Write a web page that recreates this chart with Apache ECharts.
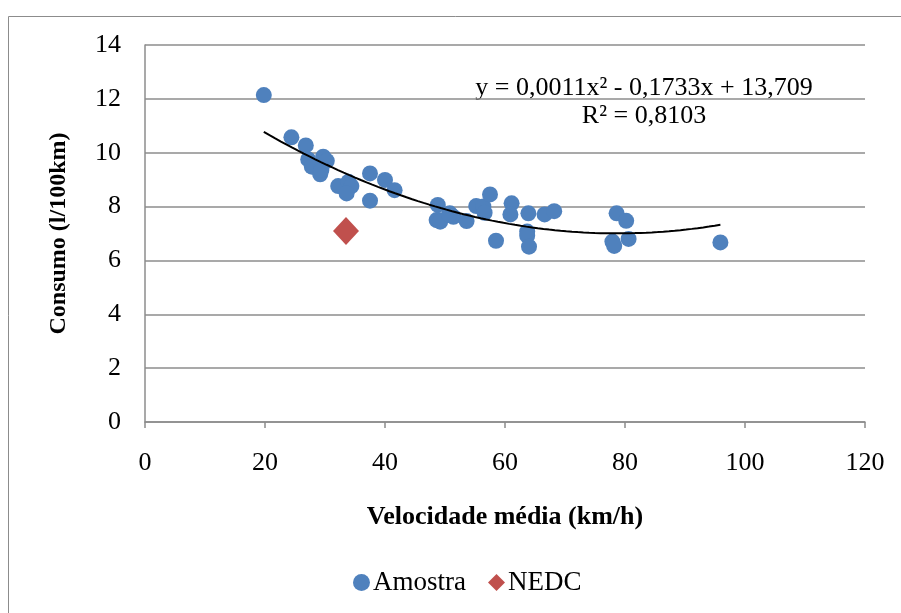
<!DOCTYPE html>
<html><head><meta charset="utf-8">
<script src="https://cdn.jsdelivr.net/npm/echarts@6/dist/echarts.min.js"></script>
<style>html,body{margin:0;padding:0;background:#fff}#c{width:901px;height:613px}</style>
</head><body><div id="c"></div>
<script>
const amostraX = [19.8,24.4,26.8,27.2,27.8,29.7,30.3,29.2,29.4,32.2,33.9,34.4,33.6,37.5,40.0,41.6,37.5,48.8,48.9,48.6,49.2,50.8,51.4,53.6,55.2,56.4,56.6,57.5,58.5,61.1,60.9,63.9,63.7,63.7,64.0,66.6,68.2,78.6,80.2,77.9,78.2,80.6,95.9,50.7];
const amostraY = [12.14,10.57,10.27,9.75,9.48,9.85,9.70,9.20,9.36,8.76,8.92,8.76,8.49,9.23,8.99,8.61,8.22,8.06,7.50,7.50,7.44,7.75,7.62,7.46,8.02,8.00,7.77,8.45,6.73,8.12,7.71,7.75,7.07,6.92,6.51,7.71,7.83,7.75,7.47,6.70,6.54,6.80,6.67,7.70];
const nedcX = [33.5];
const nedcY = [7.09];
const equationText = 'y = 0,0011x² - 0,1733x + 13,709';
const r2Text = 'R² = 0,8103';

const amostra = amostraX.map((x,i)=>[x, amostraY[i]]);
const nedc = nedcX.map((x,i)=>[x, nedcY[i]]);

// Least-squares quadratic trend fitted to the Amostra points (as the spreadsheet does)
function quadFit(xs, ys){
  let S=[0,0,0,0,0], T=[0,0,0];
  xs.forEach((x,i)=>{let p=1; for(let k=0;k<5;k++){S[k]+=p; if(k<3) T[k]+=p*ys[i]; p*=x;}});
  const A=[[S[0],S[1],S[2],T[0]],[S[1],S[2],S[3],T[1]],[S[2],S[3],S[4],T[2]]];
  for(let i=0;i<3;i++){for(let j=i+1;j<3;j++){const f=A[j][i]/A[i][i]; for(let k=i;k<4;k++) A[j][k]-=f*A[i][k];}}
  const c=[0,0,0];
  for(let i=2;i>=0;i--){let s=A[i][3]; for(let k=i+1;k<3;k++) s-=A[i][k]*c[k]; c[i]=s/A[i][i];}
  return c; // c0 + c1 x + c2 x^2
}
const cf = quadFit(amostraX, amostraY);
const xMin = Math.min(...amostraX), xMax = Math.max(...amostraX);
const trend = [];
for (let i = 0; i <= 80; i++) {
  const x = xMin + (xMax - xMin) * i / 80;
  trend.push([x, cf[0] + cf[1]*x + cf[2]*x*x]);
}

const font = '"Liberation Serif","Times New Roman",serif';
const chart = echarts.init(document.getElementById('c'), null, {renderer:'canvas'});
chart.setOption({
  animation:false,
  backgroundColor:'#fff',
  textStyle:{fontFamily:font},
  grid:{left:145, top:45, right:36, bottom:191},
  xAxis:{type:'value', min:0, max:120, interval:20,
    name:'Velocidade média (km/h)', nameLocation:'middle', nameGap:82,
    nameTextStyle:{fontFamily:font, fontSize:26, fontWeight:'bold', color:'#000'},
    axisLine:{show:true, lineStyle:{color:'#8c8c8c', width:1.5}},
    axisTick:{show:true, inside:false, length:6, lineStyle:{color:'#8c8c8c', width:1.5}},
    axisLabel:{fontFamily:font, fontSize:26, color:'#000', margin:28},
    splitLine:{show:false}},
  yAxis:{type:'value', min:0, max:14, interval:2,
    name:'Consumo (l/100km)', nameLocation:'middle', nameGap:74, nameRotate:90,
    nameTextStyle:{fontFamily:font, fontSize:24, fontWeight:'bold', color:'#000'},
    axisLine:{show:true, lineStyle:{color:'#8c8c8c', width:1.5}},
    axisTick:{show:false},
    axisLabel:{fontFamily:font, fontSize:26, color:'#000', margin:24},
    splitLine:{show:true, lineStyle:{color:'#8c8c8c', width:1.5}}},
  legend:{bottom:12, left:348, itemGap:22, itemWidth:17, itemHeight:17,
    textStyle:{fontFamily:font, fontSize:27, color:'#000', padding:[0,0,0,-2]},
    data:[{name:'Amostra', icon:'circle'},{name:'NEDC', icon:'diamond'}]},
  graphic:[
    {type:'rect', shape:{x:8.5, y:16.5, width:1000, height:1000}, style:{fill:null, stroke:'#8c8c8c', lineWidth:1}, silent:true, z:-10},
    {type:'text', x:644, y:88, style:{text:equationText, font:'26px "Liberation Serif", serif', fill:'#000', textAlign:'center', textVerticalAlign:'middle'}},
    {type:'text', x:644, y:116, style:{text:r2Text, font:'26px "Liberation Serif", serif', fill:'#000', textAlign:'center', textVerticalAlign:'middle'}}
  ],
  series:[
    {name:'Amostra', type:'scatter', data:amostra, symbol:'circle', symbolSize:16,
      itemStyle:{color:'#4F81BD', opacity:1}, z:3},
    {name:'NEDC', type:'scatter', data:nedc, symbol:'diamond', symbolSize:[26,28],
      itemStyle:{color:'#C0504D', opacity:1}, z:4},
    {name:'trend', type:'line', data:trend, showSymbol:false, smooth:false,
      lineStyle:{color:'#000', width:2}, z:5, legendHoverLink:false}
  ]
});
</script></body></html>
